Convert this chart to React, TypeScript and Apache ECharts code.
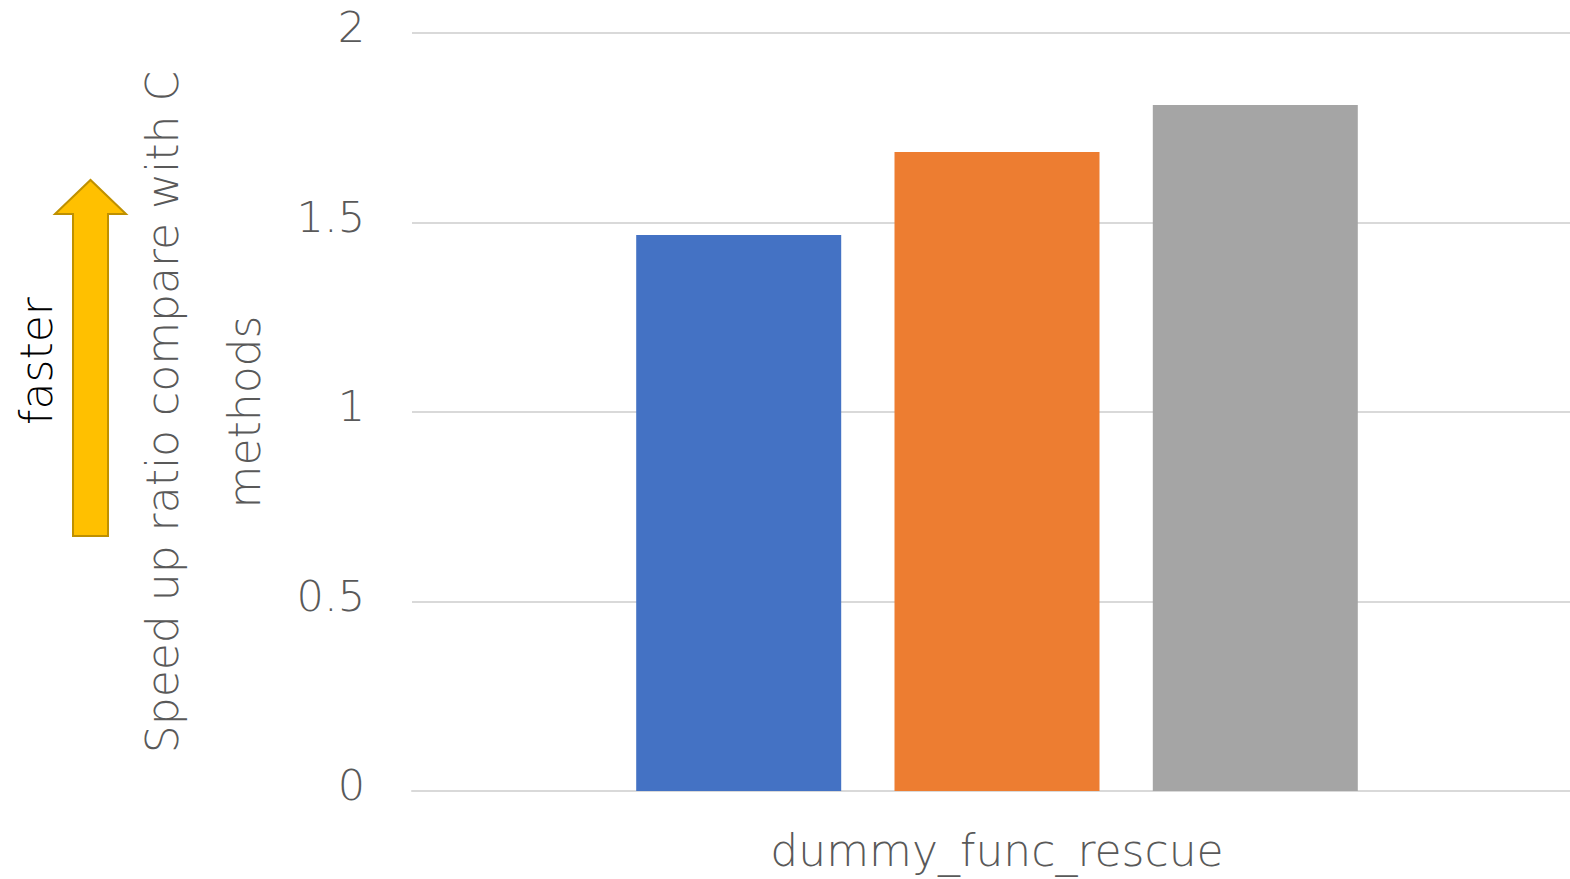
import React, { useEffect, useRef } from "react";
import * as echarts from "echarts";

// Benchmark: speed-up ratio of each method against the C baseline
const categories = ["dummy_func_rescue"];
const seriesNames = ["Method A", "Method B", "Method C"];
const seriesColors = ["#4472C4", "#ED7D31", "#A5A5A5"];
const speedups = [1.467, 1.686, 1.81];
const yTicks = { min: 0, max: 2, interval: 0.5 };

const FONT = "'DejaVu Sans', 'Noto Sans', sans-serif";
const WEIGHT = 200;
const GREY_TEXT = "#595959";

export default function App() {
  const ref = useRef<HTMLDivElement>(null);

  useEffect(() => {
    if (!ref.current) return;
    const chart = echarts.init(ref.current, undefined, { renderer: "svg" });

    const series = seriesNames.map((name, i) => ({
      name,
      type: "bar" as const,
      data: [speedups[i]],
      barWidth: 205,
      barGap: "26%",
      itemStyle: { color: seriesColors[i] },
    }));

    chart.setOption({
      animation: false,
      backgroundColor: "#ffffff",
      grid: { left: 412, top: 33, width: 1170, height: 758, containLabel: false },
      xAxis: {
        type: "category",
        data: categories,
        axisLine: { show: true, lineStyle: { color: "#d9d9d9", width: 2 } },
        axisTick: { show: false },
        axisLabel: {
          color: GREY_TEXT,
          fontFamily: FONT,
          fontWeight: WEIGHT,
          fontSize: 44,
          margin: 37,
        },
      },
      yAxis: {
        type: "value",
        min: yTicks.min,
        max: yTicks.max,
        interval: yTicks.interval,
        name: "Speed up ratio compare with C\nmethods",
        nameLocation: "middle",
        nameRotate: 90,
        nameGap: 116,
        nameTextStyle: {
          color: GREY_TEXT,
          fontFamily: FONT,
          fontWeight: WEIGHT,
          fontSize: 44,
          lineHeight: 82,
        },
        axisLine: { show: false },
        axisTick: { show: false },
        splitLine: { lineStyle: { color: "#d9d9d9", width: 2 } },
        axisLabel: {
          color: GREY_TEXT,
          fontFamily: FONT,
          fontWeight: WEIGHT,
          fontSize: 43,
          margin: 47,
          verticalAlign: "bottom",
          lineHeight: 12,
        },
      },
      series,
      graphic: [
        {
          type: "polygon",
          shape: {
            points: [
              [73, 536],
              [73, 214],
              [55, 214],
              [90.5, 180],
              [126, 214],
              [108, 214],
              [108, 536],
            ],
          },
          style: { fill: "#FFC000", stroke: "#BF9000", lineWidth: 2 },
        },
        {
          type: "text",
          x: 36,
          y: 361,
          rotation: Math.PI / 2,
          style: {
            text: "faster",
            fill: "#000000",
            fontFamily: FONT,
            fontWeight: WEIGHT,
            fontSize: 44,
            align: "center",
            verticalAlign: "middle",
          },
        },
      ],
    });

    return () => chart.dispose();
  }, []);

  return (
    <div
      ref={ref}
      style={{ position: "fixed", left: 0, top: 0, width: 1600, height: 879 }}
    />
  );
}
